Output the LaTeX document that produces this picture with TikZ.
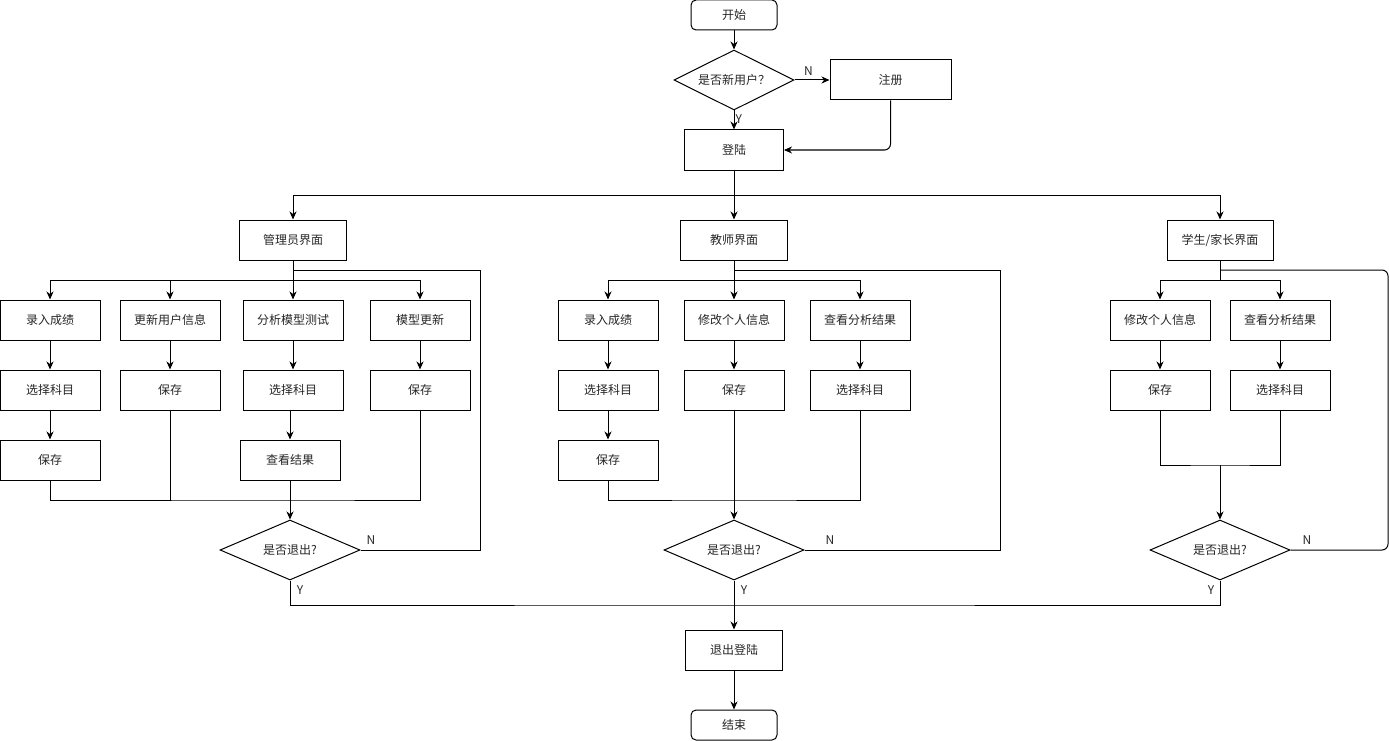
\documentclass[tikz,border=0pt]{standalone}
\usepackage{fontspec}
\newfontfamily\cjk{Noto Sans CJK SC}
\usetikzlibrary{shapes.geometric,arrows.meta}
\tikzset{
  base/.style={draw=black,line width=1pt,font=\cjk\fontsize{12}{14}\selectfont,text=black!85,inner sep=0pt},
  box/.style={base,rectangle,minimum width=100pt,minimum height=40pt},
  term/.style={base,rectangle,rounded corners=5pt,minimum width=86pt,minimum height=30pt},
  dec/.style={base,diamond,minimum width=140pt,minimum height=60pt,aspect=2.33},
  arr/.style={line width=1pt,-{Stealth[length=8pt,width=7pt,inset=2.5pt]}},
  ln/.style={line width=1pt},
  lbl/.style={font=\cjk\fontsize{12}{14}\selectfont,text=black!85,inner sep=0pt}
}
\begin{document}
\begin{tikzpicture}[x=1pt,y=-1pt]
\useasboundingbox (0,0) rectangle (1389,741);
% top
\node[term] (start) at (734,15) {开始};
\node[dec,minimum width=120pt,minimum height=60pt,aspect=2] (q1) at (734,80) {是否新用户？};
\node[box,minimum width=121pt] (reg) at (890.5,80) {注册};
\node[box,minimum width=99pt] (login) at (734,150) {登陆};
\node[box,minimum width=107pt] (admin) at (293,240) {管理员界面};
\node[box,minimum width=107pt] (teacher) at (734,240) {教师界面};
\node[box,minimum width=106pt] (student) at (1220,240) {学生/家长界面};
% admin
\node[box] (a1) at (50,320) {录入成绩};
\node[box] (a2) at (170,320) {更新用户信息};
\node[box] (a3) at (293,320) {分析模型测试};
\node[box] (a4) at (420,320) {模型更新};
\node[box] (a1b) at (50,390) {选择科目};
\node[box] (a2b) at (170,390) {保存};
\node[box] (a3b) at (293,390) {选择科目};
\node[box] (a4b) at (420,390) {保存};
\node[box] (a1c) at (50,460) {保存};
\node[box] (a3c) at (290,460) {查看结果};
\node[dec] (ad) at (290,550) {是否退出?};
% teacher
\node[box] (t1) at (608,320) {录入成绩};
\node[box] (t2) at (734,320) {修改个人信息};
\node[box] (t3) at (860,320) {查看分析结果};
\node[box] (t1b) at (608,390) {选择科目};
\node[box] (t2b) at (734,390) {保存};
\node[box] (t3b) at (860,390) {选择科目};
\node[box] (t1c) at (608,460) {保存};
\node[dec] (td) at (734,550) {是否退出?};
% student
\node[box] (s1) at (1160,320) {修改个人信息};
\node[box] (s2) at (1280,320) {查看分析结果};
\node[box] (s1b) at (1160,390) {保存};
\node[box] (s2b) at (1280,390) {选择科目};
\node[dec] (sd) at (1220,550) {是否退出?};
% bottom
\node[box,minimum width=97pt] (logout) at (734,650) {退出登陆};
\node[term] (end) at (734,725) {结束};

% coordinates
\coordinate (lb) at (734,195);
\coordinate (ab) at (293,280);
\coordinate (al) at (293,270);
\coordinate (am) at (290,500);
\coordinate (tb) at (734,280);
\coordinate (tl) at (734,270);
\coordinate (sb) at (1220,280);
\coordinate (sl) at (1220,270);
\coordinate (sm) at (1220,465);
\coordinate (yb) at (734,605);

% top connectors
\draw[arr] (start) -- (q1);
\draw[arr] (q1) -- (reg) node[lbl,pos=0.4,above=4pt] {N};
\draw[arr] (q1) -- (login) node[lbl,pos=0.45,right=1pt] {Y};
\draw[arr,rounded corners=6pt] (reg.south) |- (login.east);
\draw[ln] (login.south) -- (lb);
\draw[arr] (lb) -| (admin.north);
\draw[arr] (lb) -- (teacher.north);
\draw[arr] (lb) -| (student.north);

% admin connectors
\draw[ln] (admin.south) -- (ab);
\draw[arr] (ab) -| (a1.north);
\draw[arr] (ab) -| (a2.north);
\draw[arr] (ab) -- (a3.north);
\draw[arr] (ab) -| (a4.north);
\draw[arr] (a1) -- (a1b);
\draw[arr] (a1b) -- (a1c);
\draw[arr] (a2) -- (a2b);
\draw[arr] (a3) -- (a3b);
\draw[arr] (a4) -- (a4b);
\draw[arr] (a3b.south -| a3c.north) -- (a3c.north);
\draw[ln] (a1c.south) |- (am) -| (a4b.south);
\draw[ln] (a2b.south) -- (a2b.south |- am);
\draw[arr] (a3c.south) -- (ad.north);
\draw[ln] (ad.east) -- (480,550) |- (al);
\node[lbl] (adn) at (371,540) {N};

% teacher connectors
\draw[ln] (teacher.south) -- (tb);
\draw[arr] (tb) -| (t1.north);
\draw[arr] (tb) -- (t2.north);
\draw[arr] (tb) -| (t3.north);
\draw[arr] (t1) -- (t1b);
\draw[arr] (t1b) -- (t1c);
\draw[arr] (t2) -- (t2b);
\draw[arr] (t3) -- (t3b);
\draw[ln] (t1c.south) |- (734,500) -| (t3b.south);
\draw[arr] (t2b.south) -- (td.north);
\draw[ln] (td.east) -- (1000,550) |- (tl);
\node[lbl] (tdn) at (830,540) {N};

% student connectors
\draw[ln] (student.south) -- (sb);
\draw[arr] (sb) -| (s1.north);
\draw[arr] (sb) -| (s2.north);
\draw[arr] (s1) -- (s1b);
\draw[arr] (s2) -- (s2b);
\draw[ln] (s1b.south) |- (sm) -| (s2b.south);
\draw[arr] (sm) -- (sd.north);
\draw[ln,rounded corners=6pt] (sd.east) -- (1388,550) |- (sl);
\node[lbl] (sdn) at (1307,540) {N};

% exit
\draw[ln] (ad.south) |- (yb) -| (sd.south);
\draw[arr] (td.south) -- (logout.north);
\draw[arr] (logout) -- (end);
\node[lbl] (ady) at (300,590) {Y};
\node[lbl] (tdy) at (744,590) {Y};
\node[lbl] (sdy) at (1211,590) {Y};
\end{tikzpicture}
\end{document}
